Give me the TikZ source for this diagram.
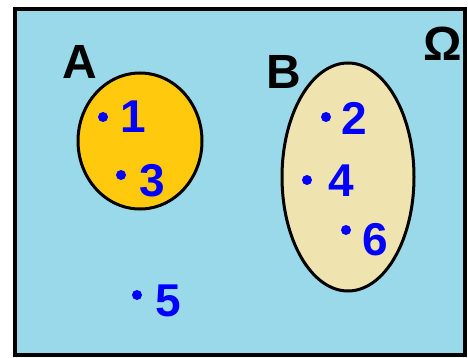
\documentclass[tikz,border=0pt]{standalone}
\usepackage{fontspec}
\setmainfont{Liberation Sans}
\definecolor{bgblue}{HTML}{99D9EA}
\definecolor{gold}{HTML}{FFC90E}
\definecolor{beige}{HTML}{EFE4B0}
\definecolor{elemblue}{HTML}{0000FF}
\begin{document}
\begin{tikzpicture}[x=1pt,y=-1pt,
  setlabel/.style={inner sep=0pt, font=\fontsize{48}{48}\selectfont\bfseries, text=black},
  elem/.style={inner sep=0pt, font=\fontsize{46}{46}\selectfont\bfseries, text=elemblue},
  elemdot/.style={circle, fill=elemblue, inner sep=0pt, minimum size=10pt}]
\useasboundingbox (0,0) rectangle (468,358);
\draw[line width=4pt, fill=bgblue] (15,9) rectangle (465,355);
\draw[line width=3pt, fill=gold] (140,141) ellipse [x radius=62, y radius=68];
\draw[line width=3pt, fill=beige] (348,177) ellipse [x radius=66, y radius=114];
\node[setlabel] (A) at (80,62) {A};
\node[setlabel] (B) at (284,72) {B};
\node[setlabel] (Omega) at (443,44) {Ω};
\node[elemdot] (d1) at (103,117) {};
\node[elem] (n1) at (133,117) {1};
\node[elemdot] (d3) at (121,175) {};
\node[elem] (n3) at (152,181) {3};
\node[elemdot] (d2) at (326,117) {};
\node[elem] (n2) at (354,118) {2};
\node[elemdot] (d4) at (307,180) {};
\node[elem] (n4) at (341,181) {4};
\node[elemdot] (d6) at (346,230) {};
\node[elem] (n6) at (375,240) {6};
\node[elemdot] (d5) at (137,295) {};
\node[elem] (n5) at (168,301) {5};
\end{tikzpicture}
\end{document}
